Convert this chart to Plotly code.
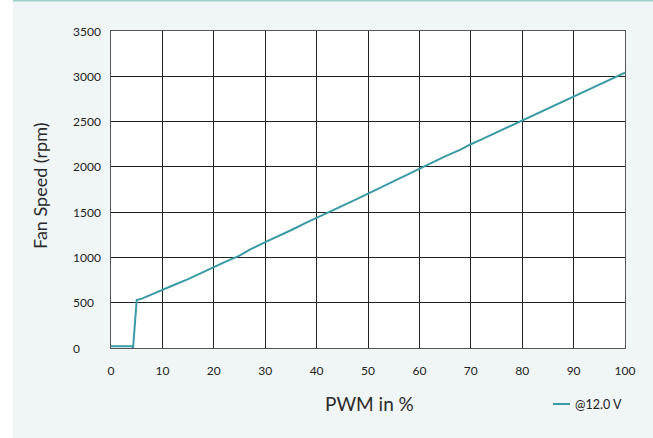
import plotly.graph_objects as go

pwm = [0, 1, 2, 3, 4, 4.3, 5, 6, 7, 8, 10, 12, 15, 17, 20, 22, 25, 27, 30, 32, 35, 38, 40, 42, 45,
       48, 50, 52, 55, 57, 60, 62, 65, 68, 70, 72, 75, 78, 80, 82, 85, 88, 90, 92, 95, 98, 100]
rpm = [20, 20, 20, 20, 20, 5, 530, 545, 570, 595, 640, 690, 760, 815, 890, 945, 1020, 1085, 1170, 1220,
       1300, 1385, 1440, 1495, 1570, 1650, 1705, 1760, 1840, 1900, 1980, 2035, 2115, 2190, 2250, 2300,
       2380, 2460, 2510, 2565, 2645, 2725, 2780, 2835, 2910, 2990, 3040]
series_name = "@12.0 V"
x_ticks = list(range(0, 101, 10))
y_ticks = list(range(0, 3501, 500))

W, H = 653, 438
L, R, T, B = 111, 28, 31, 90
pw, ph = W - L - R, H - T - B
LINE_COLOR = "#3a9aa6"
TEXT = "#222"
PANEL = "#f0f6f6"

def px(x):
    return (x - L) / pw

def py(y):
    return (H - B - y) / ph

fig = go.Figure()
fig.add_trace(go.Scatter(x=pwm, y=rpm, mode="lines", name=series_name, showlegend=False,
                         line=dict(color=LINE_COLOR, width=2)))

font = "Lato, 'Open Sans', sans-serif"
annotations = [
    dict(text="PWM in %", xref="paper", yref="paper", x=px(369), y=py(403),
         xanchor="center", yanchor="middle", showarrow=False,
         font=dict(size=19, color="#2a2a2a")),
    dict(text="Fan Speed (rpm)", xref="paper", yref="paper", x=px(40), y=py(186),
         xanchor="center", yanchor="middle", showarrow=False, textangle=-90,
         font=dict(size=18, color="#2a2a2a")),
    dict(text=series_name, xref="paper", yref="paper", x=px(573), y=py(404),
         xanchor="left", yanchor="middle", showarrow=False,
         font=dict(size=12.5, color=TEXT)),
]
for v in y_ticks:
    annotations.append(dict(text=str(v), xref="paper", yref="y", x=px(71), y=v,
                            xanchor="left", yanchor="middle", showarrow=False,
                            font=dict(size=12, color=TEXT)))

fig.update_layout(
    width=W, height=H,
    margin=dict(l=L, r=R, t=T, b=B),
    paper_bgcolor=PANEL,
    plot_bgcolor="white",
    font=dict(family=font, size=12, color=TEXT),
    showlegend=False,
    xaxis=dict(range=[0, 100], tickvals=x_ticks, showgrid=True, gridcolor="#222",
               gridwidth=1, showline=True, linecolor="#555", linewidth=1, mirror=True,
               zeroline=False, ticks="outside", ticklen=12, tickcolor="rgba(0,0,0,0)",
               tickfont=dict(size=12, color=TEXT)),
    yaxis=dict(range=[0, 3500], tickvals=y_ticks, showgrid=True, gridcolor="#222",
               gridwidth=1, showline=True, linecolor="#555", linewidth=1, mirror=True,
               zeroline=False, ticks="", showticklabels=False),
    shapes=[
        dict(type="rect", xref="paper", yref="paper", x0=px(-5), x1=px(13), y0=py(H + 5), y1=py(-5),
             fillcolor="white", line=dict(width=0), layer="below"),
        dict(type="line", xref="paper", yref="paper", x0=px(13), x1=px(W + 5), y0=py(0.7), y1=py(0.7),
             line=dict(color="#9ccfc8", width=1.5)),
        dict(type="line", xref="paper", yref="paper", x0=px(553), x1=px(570), y0=py(404), y1=py(404),
             line=dict(color=LINE_COLOR, width=2)),
    ],
    annotations=annotations,
)
bg = "linear-gradient(to right, white 13px, %s 13px)" % PANEL
fig.write_html(
    "out.html",
    config={"displayModeBar": False},
    post_script=(
        "document.body.style.margin='0';"
        "document.documentElement.style.overflow='hidden';"
        "document.documentElement.style.background='%s';"
        "document.body.style.background='%s';" % (bg, bg)
    ),
)
